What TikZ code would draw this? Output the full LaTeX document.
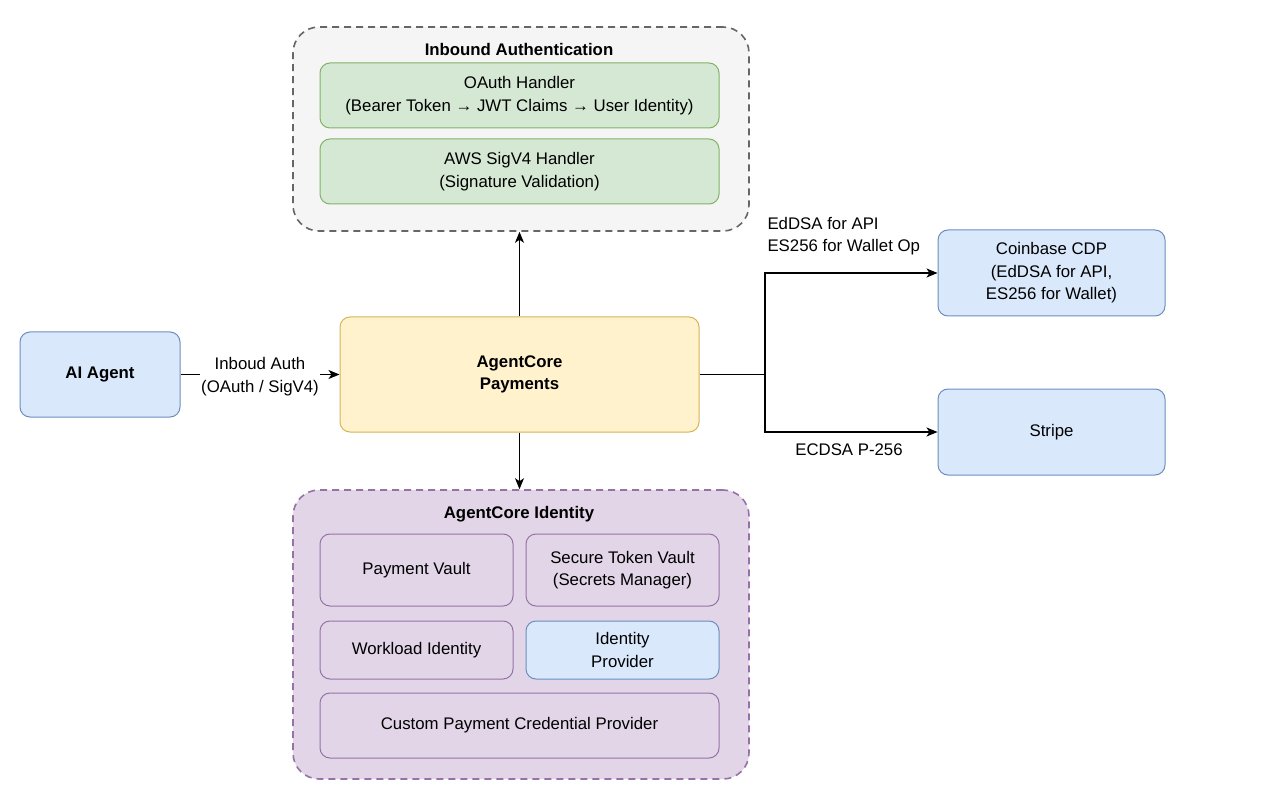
\documentclass[tikz,border=0pt]{standalone}
\usepackage{fontspec}
\setmainfont{Liberation Sans}
\usepackage{tikz}
\usetikzlibrary{positioning,arrows.meta,calc}
\definecolor{dioblue}{HTML}{DAE8FC}
\definecolor{dioblueline}{HTML}{6C8EBF}
\definecolor{diogreen}{HTML}{D5E8D4}
\definecolor{diogreenline}{HTML}{82B366}
\definecolor{dioyellow}{HTML}{FFF2CC}
\definecolor{dioyellowline}{HTML}{D6B656}
\definecolor{diopurple}{HTML}{E1D5E7}
\definecolor{diopurpleline}{HTML}{9673A6}
\definecolor{diogray}{HTML}{F5F5F5}
\definecolor{diograyline}{HTML}{666666}

\begin{document}
\begin{tikzpicture}[x=1pt, y=-1pt, font=\fontsize{16.8}{22.5}\selectfont,
    box/.style={draw, rounded corners=10pt, line width=1pt, align=center, inner sep=0pt},
    bluebox/.style={box, fill=dioblue, draw=dioblueline},
    greenbox/.style={box, fill=diogreen, draw=diogreenline},
    purplebox/.style={box, fill=diopurple, draw=diopurpleline},
    group/.style={rounded corners=26pt, line width=1.6pt, dash pattern=on 7pt off 5pt, inner sep=0pt},
    link/.style={line width=1.1pt, -{Stealth[length=11pt, width=9pt, inset=3pt]}}]
    \useasboundingbox[fill=white] (0,0) rectangle (1288,802);

    \node[group, draw=diograyline, fill=diogray, minimum width=456, minimum height=204] (inbound) at (521,129) {};
    \node[font=\fontsize{16.8}{22.5}\selectfont\bfseries] (inboundtitle) at (519,49.5) {Inbound Authentication};
    \node[greenbox, minimum width=399, minimum height=65] (oauth) at (519.5,95.5) {OAuth Handler\\(Bearer Token → JWT Claims → User Identity)};
    \node[greenbox, minimum width=399, minimum height=65] (sigv4) at (519.5,171.5) {AWS SigV4 Handler\\(Signature Validation)};

    \node[group, draw=diopurpleline, fill=diopurple, minimum width=456, minimum height=289] (identity) at (521,634.5) {};
    \node[font=\fontsize{16.8}{22.5}\selectfont\bfseries] (identitytitle) at (519,514.5) {AgentCore Identity};
    \foreach \n/\x/\y/\w/\h/\t in {vault/416.5/570/193/72/Payment Vault,
        tokenvault/622.5/570/193/72/Secure Token Vault\\(Secrets Manager),
        workload/416.5/650/193/58/Workload Identity,
        custom/519.5/725.5/399/65/Custom Payment Credential Provider}
      \node[purplebox, minimum width=\w, minimum height=\h] (\n) at (\x,\y) {\t};
    \node[bluebox, minimum width=193, minimum height=58] (idp) at (622.5,650) {Identity\\Provider};

    \node[bluebox, font=\fontsize{16.8}{22.5}\selectfont\bfseries, minimum width=160, minimum height=85] (agent) at (100,374.5) {AI Agent};
    \node[box, fill=dioyellow, draw=dioyellowline, font=\fontsize{16.8}{22.5}\selectfont\bfseries, minimum width=359, minimum height=115] (payments) at (519.5,374.5) {AgentCore\\Payments};
    \node[bluebox, minimum width=227, minimum height=86] (coinbase) at (1051.5,273) {Coinbase CDP\\(EdDSA for API,\\ES256 for Wallet)};
    \node[bluebox, minimum width=227, minimum height=86] (stripe) at (1051.5,432) {Stripe};

    \draw[link] (agent) -- node[fill=white, align=center, inner sep=1pt, yshift=-2pt] (authlabel) {Inboud Auth\\(OAuth / SigV4)} (payments);
    \draw[link] (payments.north) -- (payments.north |- inbound.south);
    \draw[link] (payments.south) -- (payments.south |- identity.north);

    \coordinate (split) at (765,374.5);
    \draw[line width=1.1pt] (payments.east) -- (split);
    \draw[link] (split) |- (coinbase.west);
    \draw[link] (split) |- (stripe.west);
    \node[anchor=west, align=left] (eddsa) at (764,236) {EdDSA for API\\ES256 for Wallet Op};
    \node (ecdsa) at (849,450) {ECDSA P-256};
  \end{tikzpicture}
\end{document}
